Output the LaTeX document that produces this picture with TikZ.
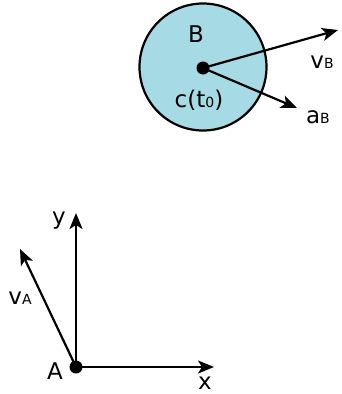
\documentclass[tikz,border=0pt]{standalone}
\usepackage{fontspec}
\setmainfont{DejaVu Sans}
\usetikzlibrary{arrows.meta,positioning,calc}
\definecolor{bodyblue}{RGB}{166,219,229}
\tikzset{
  vec/.style={-{Stealth[length=16pt,width=13pt,inset=4pt]}, line width=2.2pt},
  pt/.style={circle, fill=black, inner sep=0pt, minimum size=13pt},
  lbl/.style={inner sep=1pt},
}
\newcommand{\sub}[1]{{\fontsize{14}{14}\selectfont #1}}

\begin{document}
\begin{tikzpicture}[x=1pt, y=-1pt, font=\fontsize{23}{23}\selectfont]
            \useasboundingbox (0,0) rectangle (341,394);
            % rigid body B
            \node (body) at (203,67) [circle, draw, line width=2.2pt, fill=bodyblue, minimum size=127pt] {};
            \node (c) at (203,68) [pt] {};
            \coordinate (vBtip) at (338,30);
            \coordinate (aBtip) at (297,108);
            \draw[vec] (c.center) -- (vBtip);
            \draw[vec] (c.center) -- (aBtip);
            \node (Blbl) at (196,34) [lbl] {B};
            \node (clbl) at (199,100) [lbl] {c(t\sub{0})};
            \node (vBlbl) at (322,62) [lbl] {v\sub{B}};
            \node (aBlbl) at (318,117) [lbl] {a\sub{B}};
            % frame at A
            \node (A) at (76,367) [pt] {};
            \coordinate (xtip) at (214,367);
            \coordinate (ytip) at (76,213);
            \coordinate (vAtip) at (20,249);
            \draw[vec] (A.center) -- (xtip);
            \draw[vec] (A.center) -- (ytip);
            \draw[vec] (A.center) -- (vAtip);
            \node (xlbl) at (205,383) [lbl] {x};
            \node (ylbl) at (59,221) [lbl] {y};
            \node (Albl) at (55,371) [lbl] {A};
            \node (vAlbl) at (20,298) [lbl] {v\sub{A}};
        \end{tikzpicture}
\end{document}
